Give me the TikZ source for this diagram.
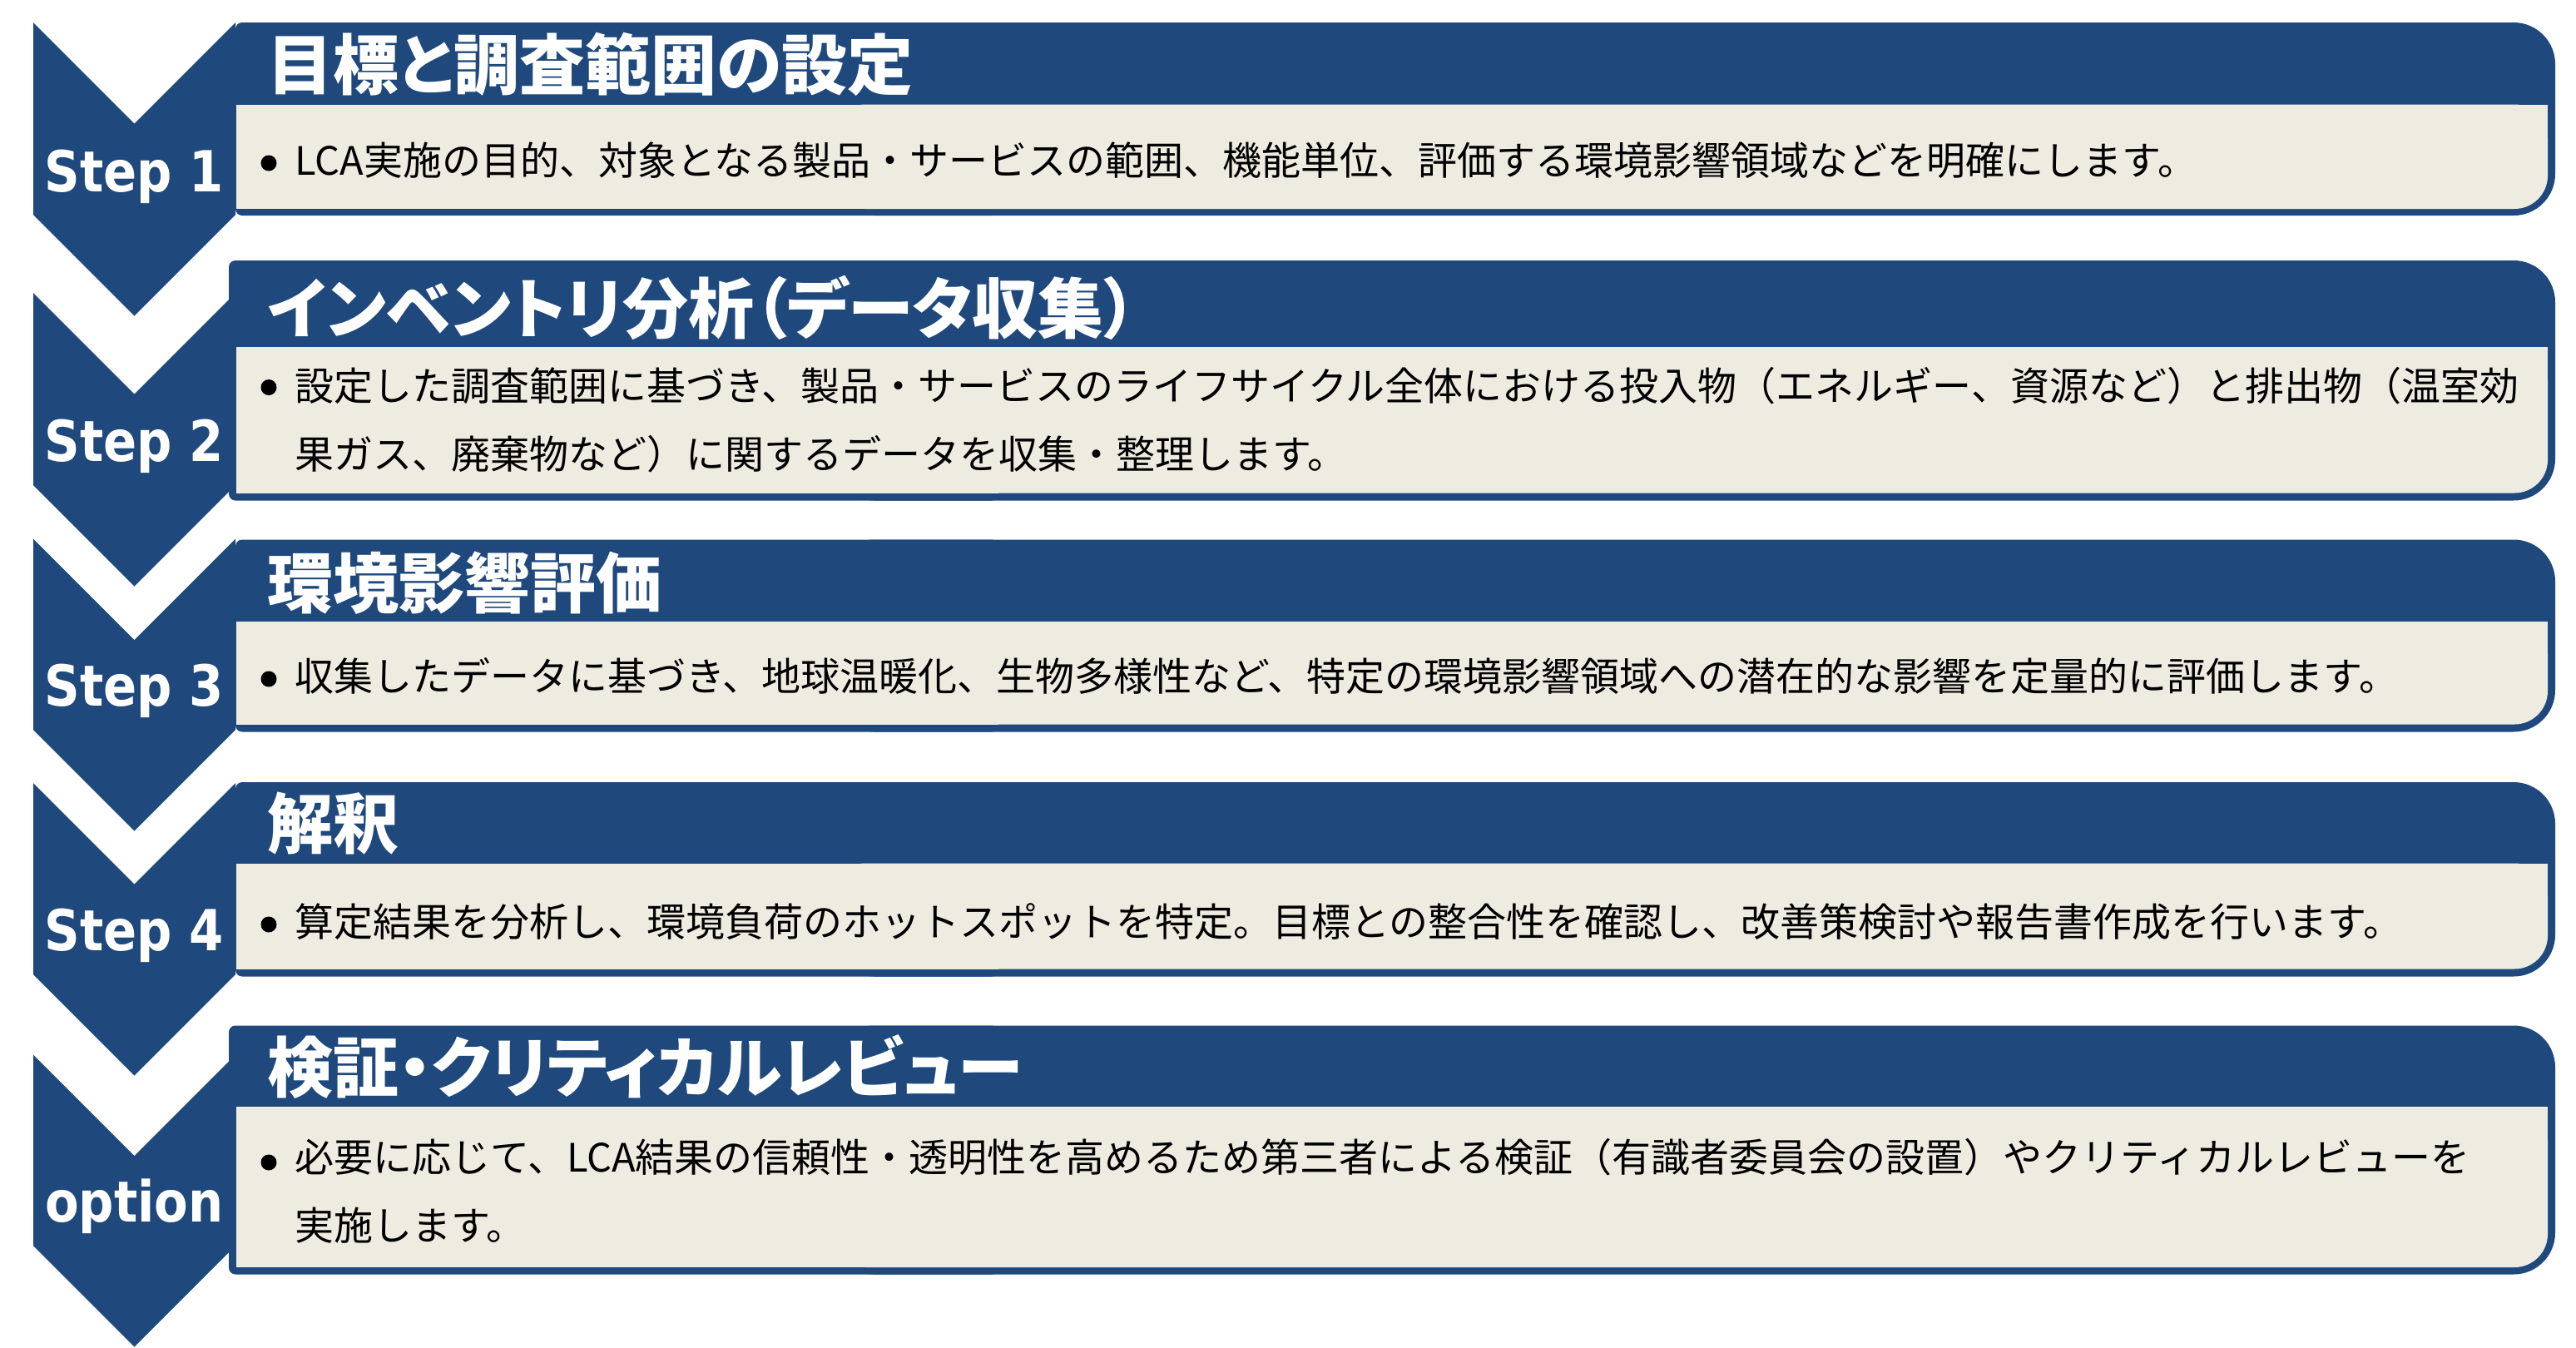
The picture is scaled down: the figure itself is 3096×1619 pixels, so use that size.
\documentclass[tikz,border=0pt]{standalone}
\usepackage{fontspec}
\usepackage{tikz}
\setmainfont{Noto Sans CJK JP}
\newfontfamily\titlefont[RawFeature=+palt]{Noto Sans CJK JP}
\newfontfamily\stepfont[FakeStretch=0.87]{DejaVu Sans}
\definecolor{stepblue}{HTML}{1F497D}
\definecolor{stepbeige}{HTML}{EEECE1}

\begin{document}
\begin{tikzpicture}[x=0.5pt, y=-0.5pt,
  title/.style={anchor=base west, inner sep=0pt, text=white, font=\titlefont\bfseries\fontsize{39.5}{47}\selectfont},
  body/.style={anchor=base west, inner sep=0pt, align=left, font=\fontsize{23.5}{41}\selectfont},
  steplabel/.style={anchor=base, inner sep=0pt, text=white, font=\stepfont\bfseries\fontsize{34}{40}\selectfont},
  dot/.style={circle, fill=black, inner sep=0pt, minimum size=9.5pt}]
\useasboundingbox (0,0) rectangle (3096,1619);
\fill [stepblue, rounded corners=4pt] (283,27) rectangle (1200,259);
\fill [stepblue, rounded corners=25pt] (1000,27) rectangle (3071,259);
\fill [stepbeige, rounded corners=20pt] (1000,125.5) rectangle (3062,251);
\fill [stepbeige] (284,125.5) rectangle (3062,175);
\fill [stepbeige] (284,125.5) rectangle (1200,251);
\fill [stepblue, rounded corners=4pt] (275,313) rectangle (1200,601.5);
\fill [stepblue, rounded corners=25pt] (1000,313) rectangle (3071,601.5);
\fill [stepbeige, rounded corners=20pt] (1000,417) rectangle (3062,592.5);
\fill [stepbeige] (284,417) rectangle (3062,470);
\fill [stepbeige] (284,417) rectangle (1200,592.5);
\fill [stepblue, rounded corners=4pt] (283,648.5) rectangle (1200,879.5);
\fill [stepblue, rounded corners=25pt] (1000,648.5) rectangle (3071,879.5);
\fill [stepbeige, rounded corners=20pt] (1000,747) rectangle (3062,870.5);
\fill [stepbeige] (284,747) rectangle (3062,800);
\fill [stepbeige] (284,747) rectangle (1200,870.5);
\fill [stepblue, rounded corners=4pt] (283,940) rectangle (1200,1173.5);
\fill [stepblue, rounded corners=25pt] (1000,940) rectangle (3071,1173.5);
\fill [stepbeige, rounded corners=20pt] (1000,1037.5) rectangle (3062,1164.5);
\fill [stepbeige] (284,1037.5) rectangle (3062,1090);
\fill [stepbeige] (284,1037.5) rectangle (1200,1164.5);
\fill [stepblue, rounded corners=4pt] (275,1232.5) rectangle (1200,1531.5);
\fill [stepblue, rounded corners=25pt] (1000,1232.5) rectangle (3071,1531.5);
\fill [stepbeige, rounded corners=20pt] (1000,1330) rectangle (3062,1523);
\fill [stepbeige] (284,1330) rectangle (3062,1380);
\fill [stepbeige] (284,1330) rectangle (1200,1523);
\fill [stepblue] (40,27) -- (161.5,148.5) -- (283,27) -- (283,258) -- (161.5,379.5) -- (40,258) -- cycle;
\fill [stepblue] (40,352) -- (161.5,473.5) -- (283,352) -- (283,583) -- (161.5,704.5) -- (40,583) -- cycle;
\fill [stepblue] (40,647.5) -- (161.5,769) -- (283,647.5) -- (283,877) -- (161.5,998.5) -- (40,877) -- cycle;
\fill [stepblue] (40,941) -- (161.5,1062.5) -- (283,941) -- (283,1171) -- (161.5,1292.5) -- (40,1171) -- cycle;
\fill [stepblue] (40,1267.5) -- (161.5,1389) -- (283,1267.5) -- (283,1497) -- (161.5,1618.5) -- (40,1497) -- cycle;
\node [steplabel] (step1) at (161.5,230) {Step 1};
\node [steplabel] (step2) at (161.5,554) {Step 2};
\node [steplabel] (step3) at (161.5,848) {Step 3};
\node [steplabel] (step4) at (161.5,1142) {Step 4};
\node [steplabel] (option) at (161.5,1468.5) {option};
\node [title] (title1) at (321,107) {目標と調査範囲の設定};
\node [title] (title2) at (321,400) {インベントリ分析（データ収集）};
\node [title] (title3) at (321,730) {環境影響評価};
\node [title] (title4) at (321,1019) {解釈};
\node [title] (title5) at (321,1312) {検証・クリティカルレビュー};
\node [dot] (dot1) at (323,196) {};
\node [dot] (dot2) at (323,465.5) {};
\node [dot] (dot3) at (323,816) {};
\node [dot] (dot4) at (323,1111) {};
\node [dot] (dot5) at (323,1397) {};
\node [body] (text1) at (354,210) {LCA実施の目的、対象となる製品・サービスの範囲、機能単位、評価する環境影響領域などを明確にします。};
\node [body] (text2) at (354,563) {設定した調査範囲に基づき、製品・サービスのライフサイクル全体における投入物（エネルギー、資源など）と排出物（温室効\\果ガス、廃棄物など）に関するデータを収集・整理します。};
\node [body] (text3) at (354,830) {収集したデータに基づき、地球温暖化、生物多様性など、特定の環境影響領域への潜在的な影響を定量的に評価します。};
\node [body] (text4) at (354,1125) {算定結果を分析し、環境負荷のホットスポットを特定。目標との整合性を確認し、改善策検討や報告書作成を行います。};
\node [body] (text5) at (354,1490) {必要に応じて、LCA結果の信頼性・透明性を高めるため第三者による検証（有識者委員会の設置）やクリティカルレビューを\\実施します。};
\end{tikzpicture}
\end{document}
